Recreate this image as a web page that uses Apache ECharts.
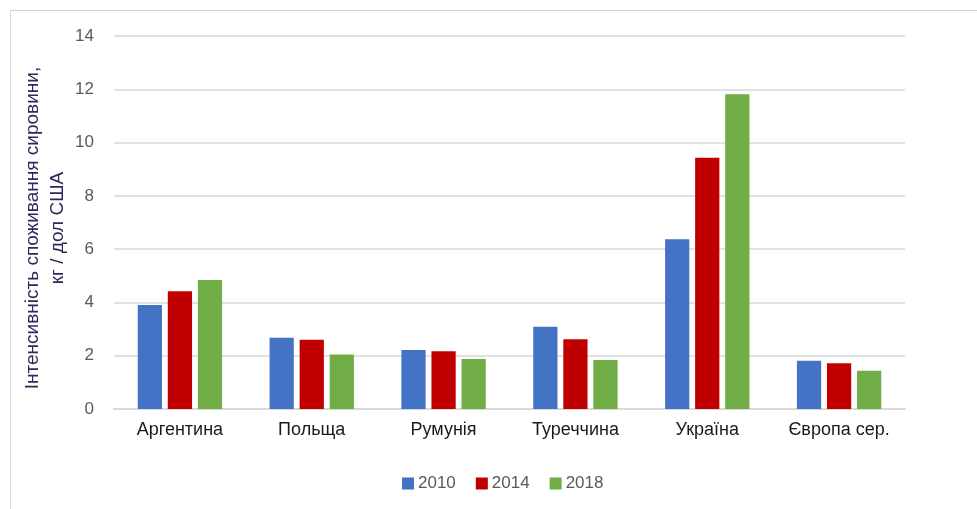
<!DOCTYPE html>
<html>
<head>
<meta charset="utf-8">
<script src="https://cdn.jsdelivr.net/npm/echarts@6/dist/echarts.min.js"></script>
<style>
  html, body { margin: 0; padding: 0; background: #fff; }
  .frame {
    position: absolute; left: 10px; top: 10px; width: 967px; height: 499px;
    border-top: 1px solid #e6c9cb; border-left: 1px solid #dcdcdc;
  }
  #chart { position: absolute; left: 0; top: 0; width: 977px; height: 509px; }
</style>
</head>
<body>
<div class="frame"></div>
<div id="chart"></div>
<script>
// категорії та значення
const countries = ["Аргентина", "Польща", "Румунія", "Туреччина", "Україна", "Європа сер."];
const years = ["2010", "2014", "2018"];
const values2010 = [3.9, 2.67, 2.21, 3.09, 6.37, 1.81];
const values2014 = [4.42, 2.6, 2.17, 2.62, 9.43, 1.72];
const values2018 = [4.84, 2.05, 1.88, 1.84, 11.81, 1.44];
const yTicks = [0, 2, 4, 6, 8, 10, 12, 14];
const yTitle = "Інтенсивність споживання сировини,\nкг / дол США";

const colors = ["#4472c4", "#c00000", "#70ad47"];
const font = "Arial, 'Liberation Sans', sans-serif";

const myChart = echarts.init(document.getElementById("chart"));

const makeSeries = (name, data, color) => ({
  name: name,
  type: "bar",
  data: data,
  barGap: "24%",
  barCategoryGap: "36%",
  itemStyle: { color: color },
});

const option = {
  animation: false,
  textStyle: { fontFamily: font },
  legend: {
    top: 470,
    left: 397,
    itemWidth: 12,
    itemHeight: 12,
    itemGap: 20,
    icon: "rect",
    textStyle: { color: "#595959", fontSize: 17, fontFamily: font, padding: [0, 0, 0, -1] },
    data: years,
  },
  grid: { left: 114, right: 72, top: 36, bottom: 100 },
  // підпис осі Y, повернутий на 90°
  graphic: [
    {
      type: "text",
      x: 45,
      y: 228,
      rotation: Math.PI / 2,
      style: {
        text: yTitle,
        fill: "#2f2859",
        font: "19px " + font,
        lineHeight: 25,
        align: "center",
        verticalAlign: "middle",
      },
    },
  ],
  xAxis: {
    type: "category",
    data: countries,
    axisTick: { show: false },
    axisLine: { lineStyle: { color: "#d9d9d9", width: 2 } },
    axisLabel: { color: "#1a1a1a", fontSize: 18, margin: 12, fontFamily: font },
  },
  yAxis: {
    type: "value",
    min: yTicks[0],
    max: yTicks[yTicks.length - 1],
    interval: 2,
    axisLabel: { color: "#595959", fontSize: 17, margin: 20, fontFamily: font },
    splitLine: { lineStyle: { color: "#d9d9d9", width: 1.5 } },
    axisLine: { show: false },
    axisTick: { show: false },
  },
  series: [
    makeSeries(years[0], values2010, colors[0]),
    makeSeries(years[1], values2014, colors[1]),
    makeSeries(years[2], values2018, colors[2]),
  ],
};

myChart.setOption(option);
</script>
</body>
</html>
